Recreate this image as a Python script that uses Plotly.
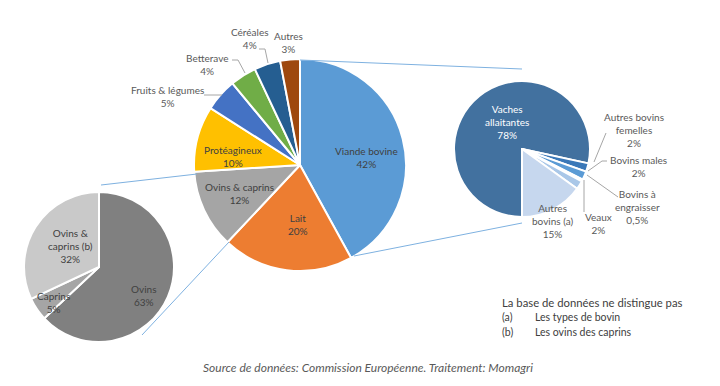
import plotly.graph_objects as go

# ---------------- data ----------------
main_labels = ["Viande bovine", "Lait", "Ovins & caprins", "Protéagineux",
               "Fruits & légumes", "Betterave", "Céréales", "Autres"]
main_display = ["Viande bovine", "Lait", "Ovins & caprins", "Protéagineux",
                "Fruits & légumes", "Betterave", "Céréales", "Autres"]
main_values = [42, 20, 12, 10, 5, 4, 4, 3]
main_colors = ["#5B9BD5", "#ED7D31", "#A5A5A5", "#FFC000",
               "#4472C4", "#70AD47", "#255E91", "#9E480E"]

bovin_labels = ["Vaches allaitantes", "Autres bovins femelles", "Bovins males",
                "Bovins à engraisser", "Veaux", "Autres bovins (a)"]
bovin_display = ["Vaches<br>allaitantes", "Autres bovins<br>femelles", "Bovins males",
                 "Bovins à<br>engraisser", "Veaux", "Autres<br>bovins (a)"]
bovin_values = [78, 2, 2, 0.5, 2, 15]
bovin_colors = ["#42719F", "#3A78B8", "#5B9BD5", "#8DB4E2", "#A9C7E8", "#C6D7EE"]

ovin_labels = ["Ovins", "Caprins", "Ovins & caprins (b)"]
ovin_display = ["Ovins", "Caprins", "Ovins &<br>caprins (b)"]
ovin_values = [63, 5, 32]
ovin_colors = ["#808080", "#A5A5A5", "#C9C9C9"]

note_title = "La base de données ne distingue pas"
note_keys = ["(a)", "(b)"]
note_texts = ["Les types de bovin", "Les ovins des caprins"]
source_text = "Source de données: Commission Européenne. Traitement: Momagri"

W, H = 720, 386
FONT = "Lato"


def px(x):
    return x / W


def py(y):
    return 1 - y / H


def pct(v):
    s = ("%g" % v).replace(".", ",")
    return s + "%"


def dom(cx, cy, r):
    return dict(x=[px(cx - r), px(cx + r)], y=[py(cy + r), py(cy - r)])


fig = go.Figure()

fig.add_trace(go.Pie(
    labels=main_labels, values=main_values, sort=False, direction="clockwise",
    rotation=0, textinfo="none", hoverinfo="label+percent",
    marker=dict(colors=main_colors, line=dict(color="white", width=2)),
    domain=dom(300, 165, 106), showlegend=False))

fig.add_trace(go.Pie(
    labels=bovin_labels, values=bovin_values, sort=False, direction="clockwise",
    rotation=180, textinfo="none", hoverinfo="label+value",
    marker=dict(colors=bovin_colors, line=dict(color="white", width=2)),
    domain=dom(522, 149, 68), showlegend=False))

fig.add_trace(go.Pie(
    labels=ovin_labels, values=ovin_values, sort=False, direction="clockwise",
    rotation=0, textinfo="none", hoverinfo="label+value",
    marker=dict(colors=ovin_colors, line=dict(color="white", width=2)),
    domain=dom(99, 267, 75), showlegend=False))

annotations = []


def label(x, y, text, color="#595959", size=10):
    annotations.append(dict(x=px(x), y=py(y), xref="paper", yref="paper",
                            text=text, showarrow=False, xanchor="center",
                            yanchor="middle", align="center",
                            font=dict(family=FONT, size=size, color=color)))


# main pie labels
main_pos = [(366, 157, "#404040"), (298, 225, "#404040"), (239, 193, "#404040"),
            (233, 156, "#404040"), (167, 96, "#595959"), (207, 64, "#595959"),
            (250, 38, "#595959"), (288, 43, "#595959")]
for lab, v, (x, y, c) in zip(main_display, main_values, main_pos):
    label(x, y, lab + "<br>" + pct(v), c)

# bovin labels
bovin_pos = [(507, 122, "white"), (634, 130, "#595959"), (638, 166, "#595959"),
             (637, 207, "#595959"), (598, 223, "#595959"), (552, 221, "#595959")]
for lab, v, (x, y, c) in zip(bovin_display, bovin_values, bovin_pos):
    label(x, y, lab + "<br>" + pct(v), c)

# ovin labels
ovin_pos = [(143, 295, "#404040"), (53, 302, "#404040"), (70, 246, "#404040")]
for lab, v, (x, y, c) in zip(ovin_display, ovin_values, ovin_pos):
    label(x, y, lab + "<br>" + pct(v), c)

# notes
annotations.append(dict(x=px(500), y=py(302), xref="paper", yref="paper", text=note_title,
                        showarrow=False, xanchor="left", yanchor="middle",
                        font=dict(family=FONT, size=11.3, color="#404040")))
for i, (k, t) in enumerate(zip(note_keys, note_texts)):
    yy = 317 + 15 * i
    annotations.append(dict(x=px(500), y=py(yy), xref="paper", yref="paper", text=k,
                            showarrow=False, xanchor="left", yanchor="middle",
                            font=dict(family=FONT, size=10.5, color="#404040")))
    annotations.append(dict(x=px(533), y=py(yy), xref="paper", yref="paper", text=t,
                            showarrow=False, xanchor="left", yanchor="middle",
                            font=dict(family=FONT, size=10.5, color="#404040")))

annotations.append(dict(x=px(368), y=py(367), xref="paper", yref="paper",
                        text="<i>" + source_text + "</i>", showarrow=False,
                        xanchor="center", yanchor="middle",
                        font=dict(family=FONT, size=12, color="#595959")))

shapes = []


def seg(x0, y0, x1, y1, color, width=1):
    shapes.append(dict(type="line", xref="paper", yref="paper",
                       x0=px(x0), y0=py(y0), x1=px(x1), y1=py(y1),
                       line=dict(color=color, width=width)))


# series connector lines
blue = "#7EB1E0"
seg(300, 60, 522, 69, blue)
seg(354, 256, 522, 223, blue)
seg(197, 174, 101, 185, blue)
seg(229, 242, 142, 335, blue)

# leader lines
gray = "#A6A6A6"
seg(204, 95, 222, 95, gray)
seg(232, 60, 238, 60, gray)
seg(238, 60, 245, 73, gray)
seg(259, 49, 265, 49, gray)
seg(265, 49, 268, 63, gray)
seg(606, 133, 594, 162, gray)
seg(607, 161, 602, 161, gray)
seg(602, 161, 588, 171, gray)
seg(618, 197, 587, 175, gray)
seg(584, 180, 584, 212, gray)

fig.update_layout(width=W, height=H, margin=dict(l=0, r=0, t=0, b=0),
                  paper_bgcolor="white", plot_bgcolor="white",
                  annotations=annotations, shapes=shapes, showlegend=False)

fig.write_html("out.html", config={"displayModeBar": False},
               post_script="document.body.style.margin='0';document.body.style.overflow='hidden';")
